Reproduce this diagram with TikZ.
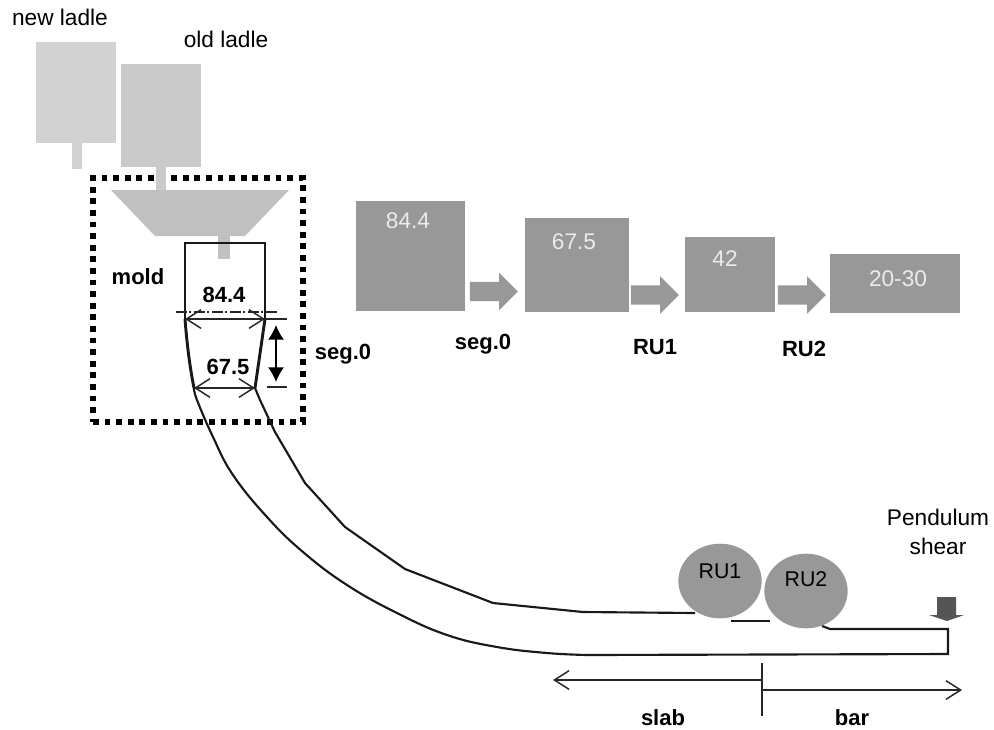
\documentclass[tikz,border=0pt]{standalone}
\usepackage{fontspec}
\setmainfont{Liberation Sans}
\usetikzlibrary{shapes, arrows.meta, positioning, calc}
\definecolor{newgray}{RGB}{210, 210, 210}
\definecolor{ladlegray}{RGB}{202, 202, 202}
\definecolor{tundishgray}{RGB}{192, 192, 192}
\definecolor{blockgray}{RGB}{152, 152, 152}
\definecolor{sheargray}{RGB}{85, 85, 85}
\begin{document}
\begin{tikzpicture}[
  x=0.75pt, y=-0.75pt,
  ladle/.style={rectangle, fill=ladlegray, inner sep=0pt},
  block/.style={rectangle, fill=blockgray, inner sep=0pt},
  flow/.style={single arrow, fill=blockgray, inner xsep=0pt, inner ysep=7pt, minimum height=36pt, single arrow head extend=6.75pt, single arrow head indent=0pt},
  roll/.style={ellipse, fill=blockgray, inner sep=0pt, minimum width=62.5pt, minimum height=56pt},
  txt/.style={font=\fontsize{17}{20}\selectfont},
  bold/.style={font=\fontsize{16.5}{20}\selectfont\bfseries},
  val/.style={font=\fontsize{17}{20}\selectfont, text=white!92!black},
  strand/.style={line width=1.6pt, black!90},
  mold/.style={line width=2.2pt, black!90},
  dim/.style={{Straight Barb[length=11pt, width=14pt]}-{Straight Barb[length=11pt, width=14pt]}, line width=1.1pt, black!85},
  tick/.style={line width=1.1pt, black!85}
]
  \useasboundingbox (0,0) rectangle (994,729);
  % mold frame
  \node[draw=black, line width=4.5pt, dash pattern=on 4.4pt off 4.3pt, minimum width=157.5pt, minimum height=183pt, inner sep=0pt] (moldbox) at (198,300) {};
  % ladles and tundish
  \node[ladle, fill=newgray, minimum width=60pt, minimum height=76pt] (newladle) at (76,92.5) {};
  \node[ladle, fill=newgray, minimum width=7.5pt, minimum height=20pt] (newspout) at (77,156) {};
  \node[ladle, minimum width=60pt, minimum height=77pt] (oldladle) at (161,115.5) {};
  \node[ladle, minimum width=7.5pt, minimum height=20pt] (oldspout) at (161,178) {};
  \fill[tundishgray] (111,190) -- (289,190) -- (245,236) -- (155,236) -- cycle;
  \node[fill=tundishgray, inner sep=0pt, minimum width=9pt, minimum height=17.5pt] (tspout) at (224,247.5) {};
  \node[txt] (newlab) at (60,17) {new ladle};
  \node[txt] (oldlab) at (226,39) {old ladle};
  \node[bold] (moldlab) at (138,277) {mold};
  % strand
  \draw[mold] (185,319) -- (185,243) -- (265,243) -- (265,319);
  \draw[mold] (185,319) .. controls (187,345) and (190,368) .. (194,388);
  \draw[mold] (265,319) -- (255,388);
  \draw[strand] plot[smooth, tension=0.7] coordinates {(194,388) (197,400) (213,437) (233,475) (267,517) (303,552) (347,585) (397,613) (447,635) (497,647) (547,653) (587,655)} -- (948,654) -- (948,629) -- (830,629) -- (822,626);
  \draw[strand] (255,388) -- (260,400) -- (275,432) -- (305,483) -- (345,527) -- (405,569) -- (493,603) -- (583,612) -- (695,613);
  \draw[strand] (731,621) -- (770,621);
  % mold dimensions
  \coordinate (a1) at (185,319);
  \coordinate (a2) at (265,319);
  \coordinate (b1) at (194,388);
  \coordinate (b2) at (255,388);
  \draw[tick, dash pattern=on 8pt off 2pt on 1.5pt off 2pt] (176,312) -- (278,312);
  \draw[dim] (a1) -- (a2);
  \draw[dim] (b1) -- (b2);
  \draw[tick] (a2) -- (287,319);
  \draw[tick] (267,387) -- (287,387);
  \draw[{Latex[length=11pt, width=12pt]}-{Latex[length=11pt, width=12pt]}, line width=1.1pt] (276,325) -- (276,382);
  \node[bold] (d84) at (224,295) {84.4};
  \node[bold] (d67) at (228,367) {67.5};
  \node[bold] (seglab) at (343,354) {seg.0};
  % section sizes
  \node[block, minimum width=81.75pt, minimum height=82pt] (b84) at (410,256) {};
  \node[val] (v84) at (408,221) {84.4};
  \node[flow] (f1) at (489,291.5) {};
  \node[block, minimum width=78pt, minimum height=70.5pt] (b67) at (577,265) {};
  \node[val] (v67) at (574,242) {67.5};
  \node[flow] (f2) at (650,295) {};
  \node[block, minimum width=67.5pt, minimum height=56.25pt] (b42) at (730,274.5) {};
  \node[val] (v42) at (725,259) {42};
  \node[flow] (f3) at (797,295) {};
  \node[block, minimum width=97.5pt, minimum height=44.25pt] (b20) at (895,283.5) {};
  \node[val] (v20) at (898,279) {20-30};
  \node[bold] (s0) at (483,344) {seg.0};
  \node[bold] (s1) at (655,347) {RU1};
  \node[bold] (s2) at (804,349) {RU2};
  % rolls and shear
  \node[roll] (ru1) at (720,581) {};
  \node[roll] (ru2) at (806,591) {};
  \node[font=\fontsize{16}{20}\selectfont] (ru1lab) at (720,571) {RU1};
  \node[font=\fontsize{16}{20}\selectfont] (ru2lab) at (806,579) {RU2};
  \node[txt, align=center] (shearlab) at (938,532) {Pendulum\\[2pt]shear};
  \fill[sheargray] (937,597) -- (956,597) -- (956,615) -- (964,615) -- (947,621) -- (929,615) -- (937,615) -- cycle;
  % slab and bar
  \coordinate (mid) at (762,680);
  \coordinate (midb) at (762,690);
  \coordinate (slabend) at (553,680);
  \coordinate (barend) at (962,690);
  \draw[tick] (762,663) -- (762,716);
  \draw[tick, -{Straight Barb[length=11pt, width=14pt]}] (mid) -- (slabend);
  \draw[tick, -{Straight Barb[length=11pt, width=14pt]}] (midb) -- (barend);
  \node[bold] (slablab) at (663,718) {slab};
  \node[bold] (barlab) at (852,718) {bar};
\end{tikzpicture}
\end{document}
